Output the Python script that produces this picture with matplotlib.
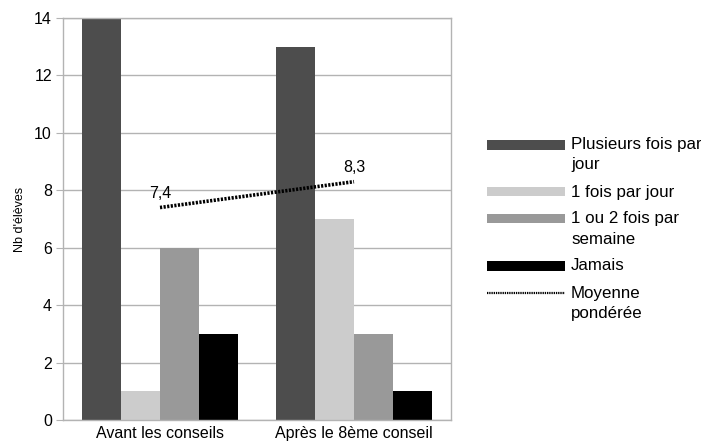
import matplotlib.pyplot as plt
import numpy as np
from matplotlib.patches import Rectangle
from matplotlib.lines import Line2D

plt.rcParams['font.family'] = ['Liberation Sans', 'DejaVu Sans']

categories = ["Avant les conseils", "Après le 8ème conseil"]
series_names = ["Plusieurs fois par\njour", "1 fois par jour", "1 ou 2 fois par\nsemaine", "Jamais"]
series_values = [
    [14, 13],
    [1, 7],
    [6, 3],
    [3, 1],
]
moyenne = [7.4, 8.3]
moyenne_labels = ["7,4", "8,3"]
colors = ["#4d4d4d", "#cccccc", "#999999", "#000000"]

fs = 11.5
W, H = 701, 444
dotted = (0, (0.6, 0.4))

fig = plt.figure(figsize=(W / 100, H / 100), dpi=100)
ax = fig.add_axes([63 / W, 1 - 420 / H, 388 / W, 402 / H])

x = np.arange(len(categories))
width = 0.2
for i, vals in enumerate(series_values):
    ax.bar(x + (i - 1.5) * width, vals, width, color=colors[i], zorder=2)

ax.plot(x, moyenne, color="black", linestyle=dotted, linewidth=2.6, zorder=3)
for xi, yi, lab in zip(x, moyenne, moyenne_labels):
    ax.annotate(lab, (xi, yi), xytext=(0, 4.5), textcoords="offset points",
                ha="center", va="bottom", fontsize=fs)

ax.set_xlim(-0.5, 1.5)
ax.set_ylim(0, 14)
ax.set_yticks(range(0, 15, 2))
ax.set_xticks(x)
ax.set_xticklabels(categories, fontsize=fs)
ax.tick_params(axis="x", length=0, pad=4)
ax.tick_params(axis="y", length=5, color="#b3b3b3", labelsize=fs, pad=3)
ax.yaxis.grid(True, color="#b3b3b3", linewidth=1, zorder=0)
for s in ax.spines.values():
    s.set_color("#b3b3b3")
    s.set_linewidth(1)
ax.set_ylabel("Nb d'élèves", fontsize=9, labelpad=6)

# legend drawn by hand so the key sits on the first line of wrapped labels
labels = series_names + ["Moyenne\npondérée"]
hx0, hx1, tx = 487, 565, 571
line_step, entry_gap = 20, 27
y = 145
for k, lab in enumerate(labels):
    if k < len(colors):
        fig.add_artist(Rectangle((hx0 / W, 1 - (y + 4.5) / H), (hx1 - hx0) / W, 9.5 / H,
                                 transform=fig.transFigure, facecolor=colors[k], edgecolor="none"))
    else:
        fig.add_artist(Line2D([hx0 / W, hx1 / W], [1 - y / H, 1 - y / H], transform=fig.transFigure,
                              color="black", linestyle=dotted, linewidth=1.6))
    for j, part in enumerate(lab.split("\n")):
        fig.text(tx / W, 1 - (y + j * line_step) / H, part, fontsize=12.2, va="center", ha="left")
    y += entry_gap + line_step * (lab.count("\n"))

fig.savefig("out.png", dpi=100)
